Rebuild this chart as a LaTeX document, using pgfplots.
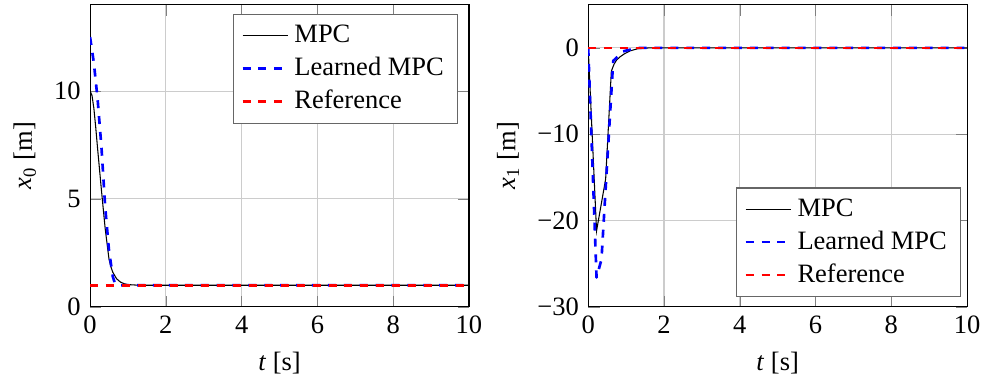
\documentclass[border=0pt]{standalone}
\usepackage{fontspec}
\setmainfont{Liberation Serif}
\usepackage{pgfplots}
\pgfplotsset{compat=1.18}
\begin{document}
\begin{tikzpicture}
\useasboundingbox (-34pt,-28.4pt) rectangle (337pt,115.8pt);
\pgfplotsset{
  every axis/.append style={
    scale only axis, width=143pt, height=114pt,
    xmin=0, xmax=10, xtick={0,2,4,6,8,10},
    grid=major, major grid style={gray!40},
    /pgf/number format/assume math mode=true,
    xlabel={\textit{t} [s]},
    legend cell align=left,
    legend style={font=\normalsize, draw=black!60},
    tick style={black!50},
  },
}
\begin{axis}[
  ymin=0, ymax=14, ytick={0,5,10},
  ylabel={\textit{x}\textsubscript{0} [m]},
  legend pos=north east,
]
\addplot[black, thin] coordinates {
(0,10) (0.05,9.8) (0.1,9.2) (0.15,8.3) (0.2,7.3) (0.3,5.4) (0.4,3.6) (0.5,2.2) (0.55,1.85) (0.6,1.6) (0.7,1.3) (0.8,1.15) (0.9,1.07) (1.0,1.03) (1.2,1.01) (1.5,1.0) (10,1.0)};
\addlegendentry{MPC}
\addplot[blue, dashed, line width=1pt, line join=round] coordinates {
(0,12.5) (0.1,11.3) (0.2,9.6) (0.3,7.4) (0.4,4.6) (0.5,2.6) (0.6,1.4) (0.65,1.12) (0.7,1.03) (0.8,1.0) (10,1.0)};
\addlegendentry{Learned MPC}
\addplot[red, dashed, line width=1pt] coordinates {(0,1) (10,1)};
\addlegendentry{Reference}
\end{axis}
\begin{axis}[
  at={(188pt,0pt)},
  ymin=-30, ymax=5, ytick={-30,-20,-10,0},
  yticklabels={−30,−20,−10,0},
  ylabel={\textit{x}\textsubscript{1} [m]},
  legend style={at={(0.983,0.031)}, anchor=south east},
]
\addplot[black, thin] coordinates {
(0,0) (0.22,-21.2) (0.46,-15.2) (0.61,-2.7) (0.68,-1.9) (0.75,-1.4) (0.85,-1.0) (0.95,-0.7) (1.1,-0.35) (1.3,-0.1) (1.6,0) (10,0)};
\addlegendentry{MPC}
\addplot[blue, dashed, line width=1pt, line join=round] coordinates {
(0,0) (0.22,-26.6) (0.35,-24.5) (0.48,-14.8) (0.66,-1.5) (0.92,-0.4) (1.3,0) (10,0)};
\addlegendentry{Learned MPC}
\addplot[red, dashed, line width=1pt] coordinates {(0,0) (10,0)};
\addlegendentry{Reference}
\end{axis}
\end{tikzpicture}
\end{document}
